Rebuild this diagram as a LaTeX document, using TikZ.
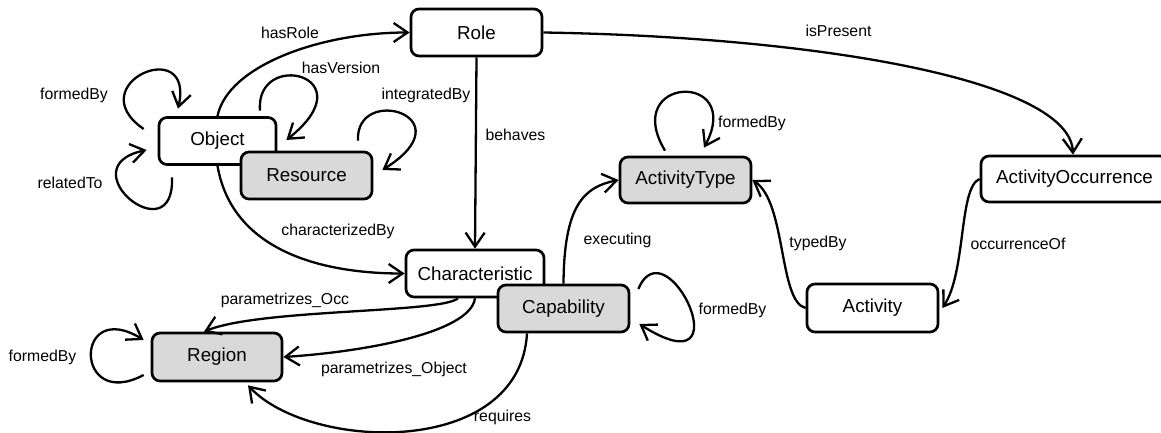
\documentclass[tikz,border=0pt]{standalone}
\usepackage{fontspec}
\setmainfont{Liberation Sans}
\usetikzlibrary{arrows.meta}
\definecolor{boxgray}{HTML}{D9D9D9}
\begin{document}
\begin{tikzpicture}[x=1pt,y=1pt,
  concept/.style={draw, line width=2.7pt, rounded corners=8pt, fill=white,
    inner sep=0pt, font=\fontsize{18.8}{22}\selectfont},
  shaded/.style={concept, fill=boxgray},
  rel/.style={line width=2.3pt, -{Straight Barb[length=14pt,width=19pt,line width=2.3pt]}},
  lbl/.style={inner sep=0pt, font=\fontsize{15.8}{19}\selectfont}]
\useasboundingbox (0,0) rectangle (1161,432);

% concepts
\node[concept, minimum width=117, minimum height=47] (obj) at (217.5,291) {Object};
\node[shaded,  minimum width=131, minimum height=47] (res) at (306.5,256.5) {Resource};
\node[concept, minimum width=131, minimum height=47] (role) at (476.5,399.5) {Role};
\node[shaded,  minimum width=131, minimum height=46] (at) at (685.5,252) {ActivityType};
\node[concept, minimum width=187, minimum height=46] (ao) at (1074.5,253) {ActivityOccurrence};
\node[concept, minimum width=138, minimum height=47] (char) at (475,158.5) {Characteristic};
\node[shaded,  minimum width=131, minimum height=47] (cap) at (563.5,123.5) {Capability};
\node[concept, minimum width=131, minimum height=48] (act) at (872.5,124) {Activity};
\node[shaded,  minimum width=130, minimum height=48] (reg) at (217,75) {Region};

% relations
\draw[rel] (obj.north) .. controls +(10,50) and +(-90,0) .. (role.west);
\node[lbl] (lHasRole) at (290,399) {hasRole};

\draw[rel] ([xshift=42.5,yshift=5.5]obj.north) .. controls +(-5,62) and +(82,65) .. ([xshift=9,yshift=1]obj.east);
\node[lbl] (lHasVersion) at (341,364) {hasVersion};

\draw[rel] ([xshift=-14,yshift=12]obj.west) .. controls +(-65,45) and +(17,75) .. ([xshift=-39.5,yshift=7.5]obj.north);
\node[lbl] (lObjFormed) at (74,337) {formedBy};

\draw[rel] ([xshift=-45.5,yshift=-11.5]obj.south) .. controls +(3,-78) and +(-80,-17) .. ([xshift=-11,yshift=-9]obj.west);
\node[lbl] (lRelated) at (70,249) {relatedTo};

\draw[rel] ([xshift=51.5,yshift=10]res.north) .. controls +(-3,57) and +(86,54) .. ([xshift=9,yshift=5.5]res.east);
\node[lbl] (lIntegrated) at (426,337) {integratedBy};

\draw[rel] (obj.south) .. controls +(14.5,-84) and +(-85,0) .. (char.west);
\node[lbl] (lCharacterized) at (338,201) {characterizedBy};

\draw[rel] (role.south) -- (char.north);
\node[lbl] (lBehaves) at (515.5,297) {behaves};

\draw[rel] (role.east) .. controls +(278,-4.5) and +(-3,74) .. ([xshift=-1.5]ao.north);
\node[lbl] (lIsPresent) at (838.5,401) {isPresent};

\draw[rel] ([xshift=-20.5,yshift=5]at.north) .. controls +(-45,75) and +(41,77) .. ([xshift=18.5,yshift=8]at.north);
\node[lbl] (lTypeFormed) at (752,309) {formedBy};

\draw[rel] (cap.north) .. controls +(0.5,78) and +(-35,-7) .. (at.west);
\node[lbl] (lExecuting) at (617.5,192) {executing};

\draw[rel] (act.west) .. controls +(-27,6) and +(34,-22) .. (at.east);
\node[lbl] (lTyped) at (818,189) {typedBy};

\draw[rel] (ao.west) .. controls +(-21,-8) and +(24,36) .. ([xshift=3]act.east);
\node[lbl] (lOccurrence) at (1018,188) {occurrenceOf};

\draw[rel] ([xshift=8,yshift=19.5]cap.east) .. controls +(28,67) and +(107,-68) .. ([xshift=9,yshift=-15.5]cap.east);
\node[lbl] (lCapFormed) at (732.5,122) {formedBy};

\draw[rel] ([xshift=-17]char.south) .. controls +(-18,-15) and +(56,23) .. ([xshift=-13]reg.north);
\node[lbl] (lParOcc) at (285,132) {parametrizes\_Occ};

\draw[rel] (char.south) .. controls +(-5,-35) and +(78,5) .. (reg.east);
\node[lbl] (lParObj) at (394,63) {parametrizes\_Object};

\draw[rel] ([xshift=-36.5]cap.south) .. controls +(-7,-125) and +(62,-66) .. ([xshift=31,yshift=-3]reg.south);
\node[lbl] (lRequires) at (502.5,15) {requires};

\draw[rel] ([xshift=-7,yshift=-18]reg.west) .. controls +(-70,-37) and +(-70,43) .. ([xshift=-7,yshift=17]reg.west);
\node[lbl] (lRegFormed) at (42.5,75) {formedBy};
\end{tikzpicture}
\end{document}
